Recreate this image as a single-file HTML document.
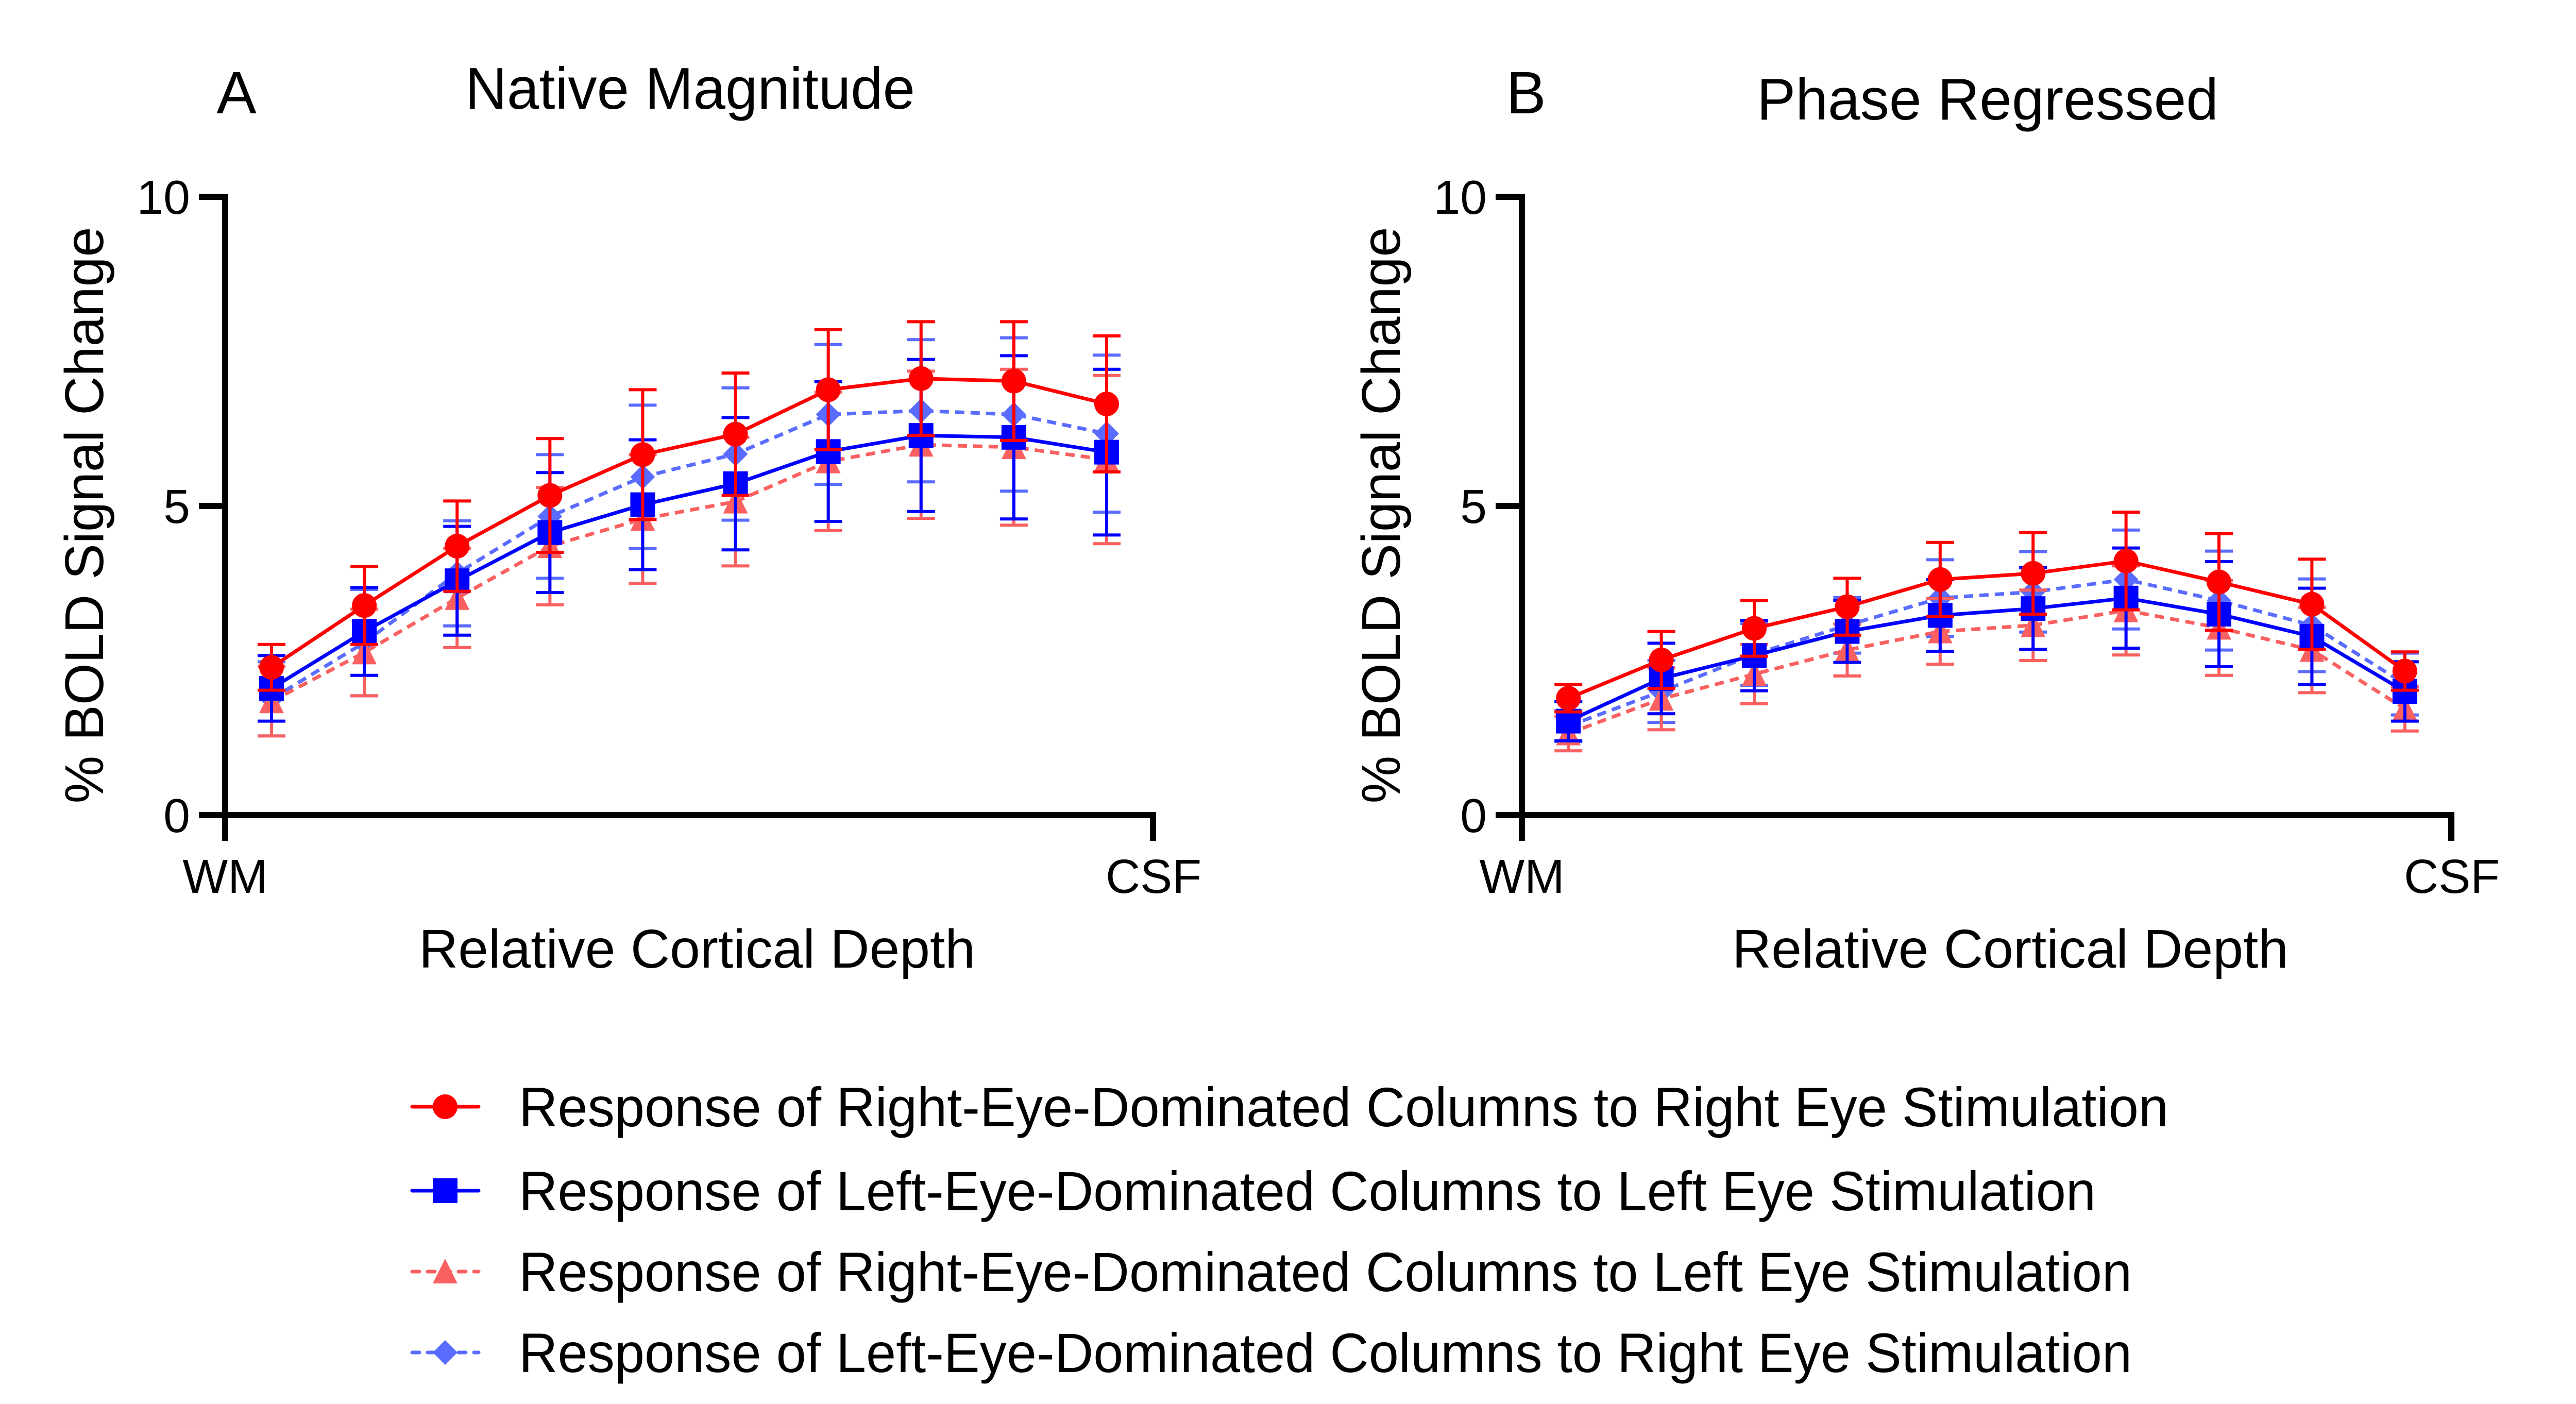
<!DOCTYPE html>
<html><head><meta charset="utf-8">
<style>
html,body{margin:0;padding:0;background:#fff;}
svg{display:block;font-family:"Liberation Sans",Arial,sans-serif;}
</style></head>
<body>
<svg id="fig" width="5084" height="2725" viewBox="0 0 5084 2725" xmlns="http://www.w3.org/2000/svg">
<rect width="5084" height="2725" fill="#fff"/>
<g id="panels"></g>
<g id="legend"></g>
</svg>
<script>
// depth positions (relative cortical depth, 0=WM, 1=CSF)
const depths = [0.05,0.15,0.25,0.35,0.45,0.55,0.65,0.75,0.85,0.95];
const yTicks = [0,5,10];
const seriesNames = [
 "Response of Right-Eye-Dominated Columns to Right Eye Stimulation",
 "Response of Left-Eye-Dominated Columns to Left Eye Stimulation",
 "Response of Right-Eye-Dominated Columns to Left Eye Stimulation",
 "Response of Left-Eye-Dominated Columns to Right Eye Stimulation"];
// Panel A: Native Magnitude
const aRR = [2.39,3.39,4.35,5.17,5.83,6.16,6.88,7.06,7.02,6.65];
const aRRerr = [0.37,0.63,0.73,0.92,1.05,0.99,0.97,0.92,0.96,1.1];
const aLL = [2.05,2.97,3.79,4.57,5.02,5.36,5.88,6.14,6.11,5.87];
const aLLerr = [0.53,0.71,0.88,0.97,1.05,1.07,1.13,1.23,1.32,1.34];
const aRL = [1.84,2.63,3.51,4.35,4.79,5.07,5.72,5.99,5.95,5.75];
const aRLerr = [0.56,0.7,0.8,0.95,1.04,1.04,1.12,1.19,1.26,1.36];
const aLR = [1.88,2.79,3.91,4.83,5.47,5.84,6.48,6.54,6.48,6.17];
const aLRerr = [0.6,0.86,0.85,1.0,1.16,1.07,1.13,1.15,1.24,1.27];
// Panel B: Phase Regressed
const bRR = [1.89,2.51,3.02,3.37,3.81,3.91,4.11,3.77,3.41,2.33];
const bRRerr = [0.22,0.46,0.45,0.46,0.6,0.66,0.79,0.78,0.73,0.31];
const bLL = [1.52,2.21,2.58,2.97,3.23,3.34,3.51,3.25,2.89,2.0];
const bLLerr = [0.32,0.57,0.57,0.5,0.58,0.66,0.81,0.85,0.78,0.48];
const bRL = [1.32,1.88,2.28,2.67,2.97,3.07,3.31,3.03,2.67,1.72];
const bRLerr = [0.28,0.5,0.48,0.42,0.53,0.57,0.72,0.77,0.69,0.36];
const bLR = [1.44,2.0,2.6,3.07,3.51,3.61,3.81,3.47,3.07,2.12];
const bLRerr = [0.25,0.5,0.5,0.45,0.62,0.65,0.8,0.8,0.75,0.5];

const NS="http://www.w3.org/2000/svg";
function mk(tag,attrs,parent){const e=document.createElementNS(NS,tag);for(const k in attrs)e.setAttribute(k,attrs[k]);parent.appendChild(e);return e;}
const styles=[
 {color:"#ff0000",dash:null,marker:"circle"},
 {color:"#0000ff",dash:null,marker:"square"},
 {color:"#fa6060",dash:"18 12",marker:"triangle"},
 {color:"#5a6cff",dash:"18 12",marker:"diamond"}];
function marker(type,cx,cy,color,parent){
 let e;
 if(type==="circle")e=mk("circle",{cx:cx,cy:cy,r:24,fill:color},parent);
 else if(type==="square")e=mk("rect",{x:cx-24,y:cy-24,width:48,height:48,fill:color},parent);
 else if(type==="triangle")e=mk("polygon",{points:`${cx},${cy-25} ${cx+24},${cy+23} ${cx-24},${cy+23}`,fill:color},parent);
 else e=mk("polygon",{points:`${cx},${cy-24} ${cx+24},${cy} ${cx},${cy+24} ${cx-24},${cy}`,fill:color},parent);
 return e;
}
const y0=1582, yTop=382;
function yS(v){return y0-(v/10)*(y0-yTop);}
const panels=[
 {x0:437,x1:2238,label:"A",title:"Native Magnitude",titleX:903,titleW:873,titleY:211,letterX:459,letterY:220,xtX:813,xtW:1080,data:[[aRR,aRRerr],[aLL,aLLerr],[aRL,aRLerr],[aLR,aLRerr]],name:"native-magnitude"},
 {x0:2954,x1:4758,label:"B",title:"Phase Regressed",titleX:3410,titleW:896,titleY:232,letterX:2962,letterY:220,xtX:3362,xtW:1080,data:[[bRR,bRRerr],[bLL,bLLerr],[bRL,bRLerr],[bLR,bLRerr]],name:"phase-regressed"}];
const root=document.getElementById("panels");
panels.forEach(p=>{
 const g=mk("g",{},root);
 
 
 const xS=d=>p.x0+d*(p.x1-p.x0);
 let t=mk("text",{x:p.letterX,y:p.letterY,"font-size":116,"text-anchor":"middle"},g);t.textContent=p.label;
 
 
 t=mk("text",{x:p.titleX,y:p.titleY,"font-size":114,textLength:p.titleW,lengthAdjust:"spacingAndGlyphs"},g);t.textContent=p.title;
 
 
 let ax=mk("path",{d:`M${p.x0},${yTop-6} V${y0+50} M${p.x0-5},${y0} H${p.x1} V${y0+50}`,stroke:"#000","stroke-width":12,fill:"none"},g);
 
 
 yTicks.forEach(v=>{
  const tk=mk("line",{x1:p.x0-51,x2:p.x0,y1:yS(v),y2:yS(v),stroke:"#000","stroke-width":12},g);
  
  
  const tl=mk("text",{x:p.x0-68,y:yS(v)+33,"font-size":93,"text-anchor":"end"},g);tl.textContent=v;
  
  
 });
 t=mk("text",{x:p.x0,y:1733,"font-size":93,"text-anchor":"middle"},g);t.textContent="WM";
 
 
 t=mk("text",{x:p.x1+1,y:1733,"font-size":93,"text-anchor":"middle"},g);t.textContent="CSF";
 
 
 t=mk("text",{x:p.xtX,y:1878,"font-size":106,textLength:p.xtW,lengthAdjust:"spacingAndGlyphs"},g);t.textContent="Relative Cortical Depth";
 
 
 const yl=p.x0-237;
 t=mk("text",{x:yl,y:1000,"font-size":106,"text-anchor":"middle",textLength:1119,lengthAdjust:"spacingAndGlyphs",transform:`rotate(-90 ${yl} 1000)`},g);t.textContent="% BOLD Signal Change";
 
 
 [3,2,1,0].forEach(si=>{
  const st=styles[si],vals=p.data[si][0],errs=p.data[si][1];
  const sg=mk("g",{},g);
  
  
  vals.forEach((v,i)=>{
   const cx=xS(depths[i]),yt=yS(v+errs[i]),yb=yS(v-errs[i]);
   const eb=mk("path",{d:`M${cx},${yt} V${yb} M${cx-27},${yt} H${cx+27} M${cx-27},${yb} H${cx+27}`,stroke:st.color,"stroke-width":6,fill:"none"},sg);
   
   
  });
  const pts=vals.map((v,i)=>`${xS(depths[i])},${yS(v)}`).join(" ");
  const ln=mk("polyline",{points:pts,stroke:st.color,"stroke-width":7,fill:"none"},sg);
  if(st.dash)ln.setAttribute("stroke-dasharray",st.dash);
  
  
  vals.forEach((v,i)=>{
   const m=marker(st.marker,xS(depths[i]),yS(v),st.color,sg);
   
   
  });
 });
});
const lg=document.getElementById("legend");
const rowY=[2148,2311,2468,2625];
const rowW=[3202,3061,3131,3131];
seriesNames.forEach((n,i)=>{
 const st=styles[i];
 const eg=mk("g",{},lg);
 
 
 const l=mk("line",{x1:800,x2:929,y1:rowY[i],y2:rowY[i],stroke:st.color,"stroke-width":7,"stroke-linecap":"round"},eg);
 if(st.dash)l.setAttribute("stroke-dasharray","14 16");
 
 
 const m=marker(st.marker,864,rowY[i],st.color,eg);
 
 
 const t=mk("text",{x:1007,y:rowY[i]+38,"font-size":108,textLength:rowW[i],lengthAdjust:"spacingAndGlyphs"},eg);t.textContent=n;
 
 
});
</script>
</body></html>
